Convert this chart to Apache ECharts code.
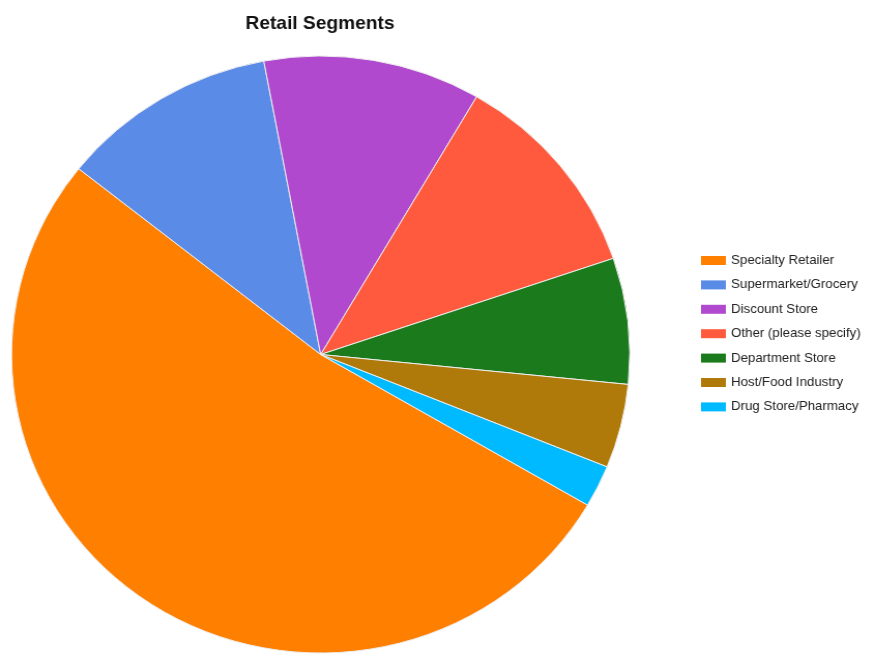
<!DOCTYPE html>
<html>
<head>
<meta charset="utf-8">
<script src="https://cdn.jsdelivr.net/npm/echarts@6/dist/echarts.min.js"></script>
<style>
  html, body { margin: 0; padding: 0; background: #ffffff; overflow: hidden; }
  /* the chart is drawn slightly narrower and widened horizontally */
  #chart { width: 845px; height: 656px; transform: scaleX(1.0355); transform-origin: 0 0; }
</style>
</head>
<body>
<div id="chart"></div>
<script>
// Retail segment responses
const categories = [
  'Specialty Retailer',
  'Supermarket/Grocery',
  'Discount Store',
  'Other (please specify)',
  'Department Store',
  'Host/Food Industry',
  'Drug Store/Pharmacy'
];
const counts = [23, 5, 5, 5, 3, 2, 1];
const colors = ['#FF8000', '#5A8BE7', '#B049CE', '#FF5A3D', '#1B7A1B', '#B07A0A', '#00BAFF'];

const chart = echarts.init(document.getElementById('chart'), null, { renderer: 'canvas' });

chart.setOption({
  animation: false,
  backgroundColor: '#ffffff',
  color: colors,
  title: {
    text: 'Retail Segments',
    left: 304,
    textAlign: 'center',
    top: 9,
    textStyle: {
      fontFamily: 'Liberation Sans, Arial, sans-serif',
      fontSize: 18.5,
      fontWeight: 'bold',
      color: '#111111'
    }
  },
  legend: {
    orient: 'vertical',
    left: 677,
    top: 253.5,
    padding: 0,
    itemWidth: 24,
    itemHeight: 9,
    itemGap: 10.4,
    icon: 'rect',
    selectedMode: false,
    data: categories,
    itemStyle: { borderWidth: 0 },
    textStyle: {
      fontFamily: 'Liberation Sans, Arial, sans-serif',
      fontSize: 12.8,
      lineHeight: 14,
      color: '#222222',
      padding: [0, 0, 0, 0]
    }
  },
  series: [{
    type: 'pie',
    center: [309.7, 354.5],
    radius: [0, 298.5],
    startAngle: 329.7,
    clockwise: true,
    label: { show: false },
    labelLine: { show: false },
    emphasis: { disabled: true },
    itemStyle: { borderColor: '#eeeeee', borderWidth: 1 },
    data: categories.map((name, i) => ({ name: name, value: counts[i] }))
  }]
});
</script>
</body>
</html>
